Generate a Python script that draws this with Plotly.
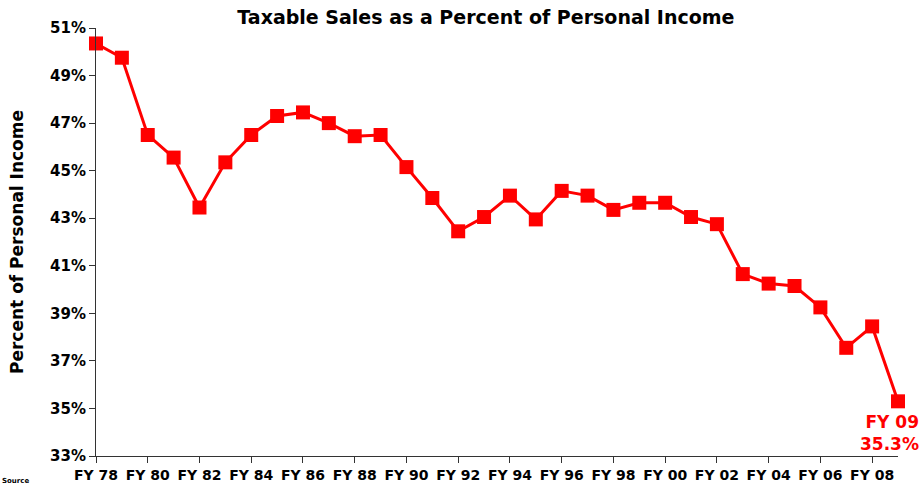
import plotly.graph_objects as go

years = list(range(1978, 2010))
values = [50.35, 49.75, 46.5, 45.55, 43.45, 45.35, 46.5, 47.3, 47.45, 47.0,
          46.45, 46.5, 45.15, 43.85, 42.45, 43.05, 43.95, 42.95, 44.15, 43.95,
          43.35, 43.65, 43.65, 43.05, 42.75, 40.65, 40.25, 40.15, 39.25, 37.55,
          38.45, 35.3]
tick_years = list(range(1978, 2009, 2))
tick_labels = ["FY %02d" % (y % 100) for y in tick_years]
y_ticks = list(range(33, 52, 2))
y_tick_labels = ["%d%%" % v for v in y_ticks]

FONT = "DejaVu Sans"
RED = "#FF0000"

fig = go.Figure()
fig.add_trace(go.Scatter(
    x=years, y=values, mode="lines+markers",
    line=dict(color=RED, width=3),
    marker=dict(symbol="square", size=14, color=RED),
    cliponaxis=False, showlegend=False, hoverinfo="skip",
))

fig.add_annotation(
    x=years[-1], y=values[-1], xref="x", yref="y",
    text="FY %02d<br>%.1f%%" % (years[-1] % 100, values[-1]),
    showarrow=False, xanchor="right", yanchor="top", align="right",
    xshift=23, yshift=-9,
    font=dict(family=FONT, size=17, color=RED, weight="bold"),
)

fig.add_annotation(
    x=0.5, y=0.5, xref="paper", yref="paper", xanchor="center", yanchor="middle",
    text="Percent of Personal Income", textangle=-90, showarrow=False,
    xshift=-(96 - 17) - 401,
    font=dict(family=FONT, size=17, color="black", weight="bold"),
)

fig.add_annotation(
    x=0, y=0, xref="paper", yref="paper", xanchor="left", yanchor="bottom",
    text="Source", showarrow=False, xshift=-96, yshift=-31,
    font=dict(family=FONT, size=7, color="black", weight="bold"),
)

fig.update_layout(
    width=922, height=487,
    margin=dict(l=96, r=24, t=28, b=31),
    paper_bgcolor="white", plot_bgcolor="white",
    title=dict(text="Taxable Sales as a Percent of Personal Income",
               x=0.527, xanchor="center", y=0.965, yanchor="middle",
               font=dict(family=FONT, size=19, color="black", weight="bold")),
    xaxis=dict(range=[1978, 2009], tickmode="array", tickvals=tick_years,
               ticktext=tick_labels, showgrid=False, zeroline=False,
               showline=True, linecolor="#333333", linewidth=1,
               ticks="outside", ticklen=6, tickcolor="#333333", automargin=False,
               tickfont=dict(family=FONT, size=14, color="black", weight="bold")),
    yaxis=dict(range=[33, 51], tickmode="array", tickvals=y_ticks,
               ticktext=y_tick_labels, showgrid=False, zeroline=False,
               showline=True, linecolor="#333333", linewidth=1,
               ticks="outside", ticklen=6, tickcolor="#333333", automargin=False,
               tickfont=dict(family=FONT, size=15, color="black", weight="bold")),
)

fig.write_html("out.html", config={"displayModeBar": False},
               post_script="document.body.style.margin='0';document.body.style.overflow='hidden';")
